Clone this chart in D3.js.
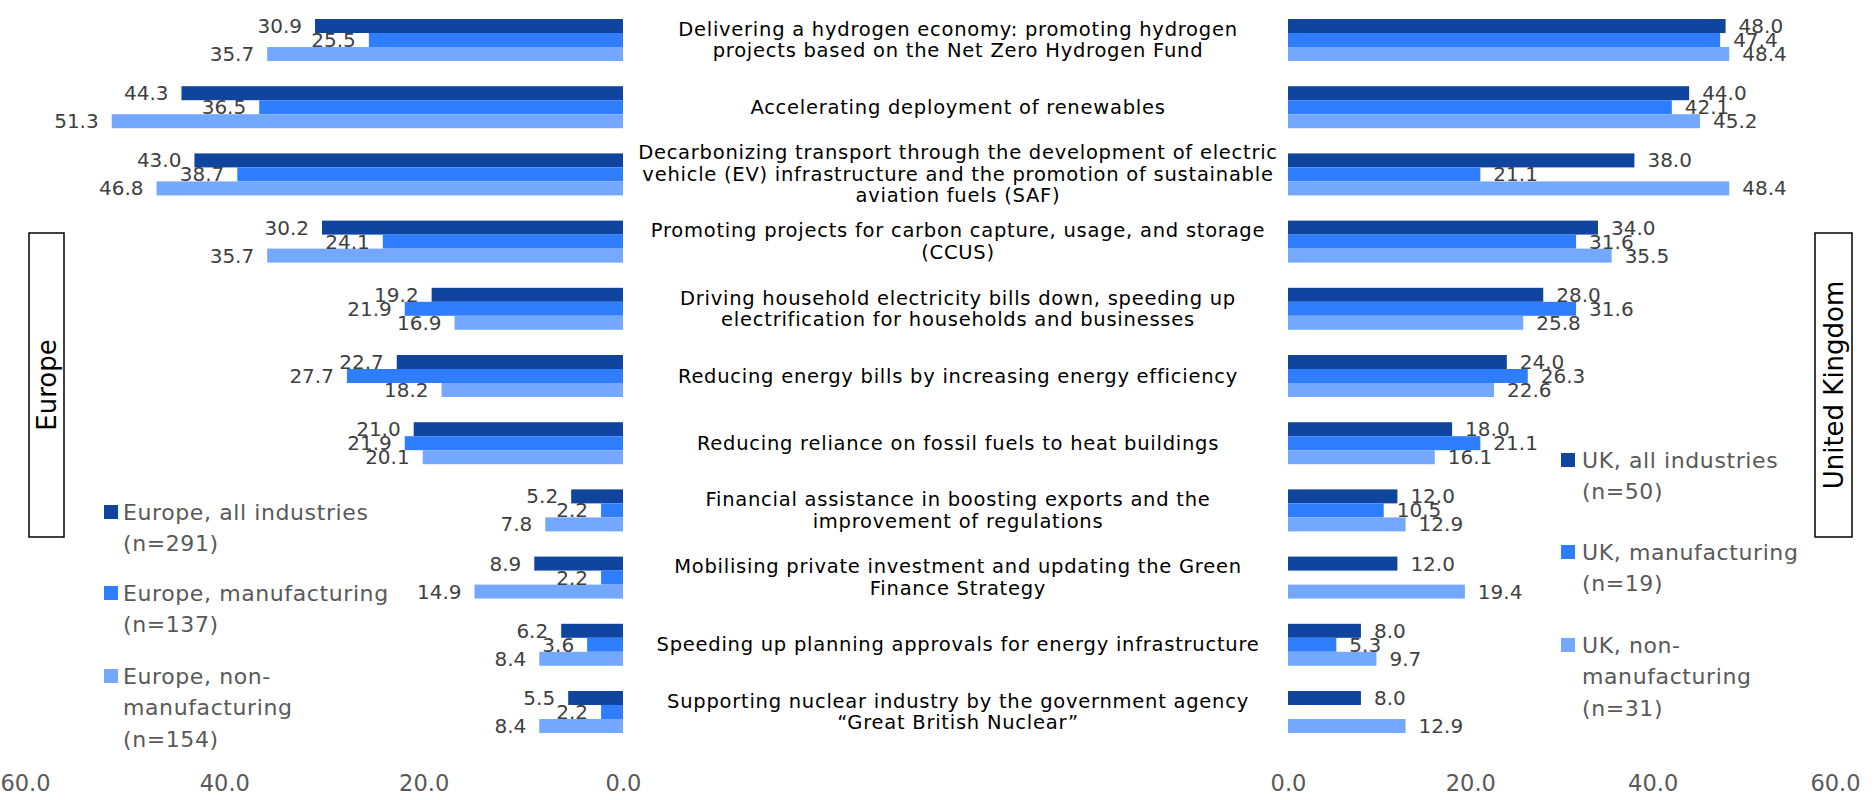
<!DOCTYPE html>
<html>
<head>
<meta charset="utf-8">
<script src="https://cdn.jsdelivr.net/npm/d3@7"></script>
<style>
  html, body { margin: 0; padding: 0; background: #fff; }
  svg { display: block; }
</style>
</head>
<body>
<svg id="chart" width="1874" height="800"></svg>
<script>
// Policy categories (label lines, top to bottom)
const categories = [
  ["Delivering a hydrogen economy: promoting hydrogen", "projects based on the Net Zero Hydrogen Fund"],
  ["Accelerating deployment of renewables"],
  ["Decarbonizing transport through the development of electric", "vehicle (EV) infrastructure and the promotion of sustainable", "aviation fuels (SAF)"],
  ["Promoting projects for carbon capture, usage, and storage", "(CCUS)"],
  ["Driving household electricity bills down, speeding up", "electrification for households and businesses"],
  ["Reducing energy bills by increasing energy efficiency"],
  ["Reducing reliance on fossil fuels to heat buildings"],
  ["Financial assistance in boosting exports and the", "improvement of regulations"],
  ["Mobilising private investment and updating the Green", "Finance Strategy"],
  ["Speeding up planning approvals for energy infrastructure"],
  ["Supporting nuclear industry by the government agency", "\u201cGreat British Nuclear\u201d"]
];

// Europe (%)
const europeAll    = [30.9, 44.3, 43.0, 30.2, 19.2, 22.7, 21.0, 5.2, 8.9, 6.2, 5.5];
const europeMfg    = [25.5, 36.5, 38.7, 24.1, 21.9, 27.7, 21.9, 2.2, 2.2, 3.6, 2.2];
const europeNonMfg = [35.7, 51.3, 46.8, 35.7, 16.9, 18.2, 20.1, 7.8, 14.9, 8.4, 8.4];

// United Kingdom (%); null = no response in that group
const ukAll    = [48.0, 44.0, 38.0, 34.0, 28.0, 24.0, 18.0, 12.0, 12.0, 8.0, 8.0];
const ukMfg    = [47.4, 42.1, 21.1, 31.6, 31.6, 26.3, 21.1, 10.5, null, 5.3, null];
const ukNonMfg = [48.4, 45.2, 48.4, 35.5, 25.8, 22.6, 16.1, 12.9, 19.4, 9.7, 12.9];

const tickValues = [0, 20, 40, 60];

const europeLegend = [
  ["Europe, all industries", "(n=291)"],
  ["Europe, manufacturing", "(n=137)"],
  ["Europe, non-", "manufacturing", "(n=154)"]
];
const ukLegend = [
  ["UK, all industries", "(n=50)"],
  ["UK, manufacturing", "(n=19)"],
  ["UK, non-", "manufacturing", "(n=31)"]
];

const colors = ["#10459F", "#2F7EFF", "#74A8FF"];
const FONT = "'DejaVu Sans', Verdana, sans-serif";

const svg = d3.select("#chart");

const xL = d3.scaleLinear().domain([0, 60]).range([623, 25]);
const xR = d3.scaleLinear().domain([0, 60]).range([1288, 1835]);
const y = d3.scaleBand().domain(d3.range(categories.length))
  .range([0, 752]).paddingInner(0.375).paddingOuter(0.283);
const ys = d3.scaleBand().domain([0, 1, 2]).range([0, y.bandwidth()]);

function panel(series, x, side) {
  const g = svg.append("g");
  series.forEach((vals, s) => {
    const data = vals.map((v, i) => ({ v, i })).filter(d => d.v != null);
    g.selectAll(null).data(data).enter().append("rect")
      .attr("x", d => Math.min(x(0), x(d.v)))
      .attr("width", d => Math.abs(x(d.v) - x(0)))
      .attr("y", d => y(d.i) + ys(s))
      .attr("height", ys.bandwidth())
      .attr("fill", colors[s]);
  });
  series.forEach((vals, s) => {
    const data = vals.map((v, i) => ({ v, i })).filter(d => d.v != null);
    g.selectAll(null).data(data).enter().append("text")
      .attr("x", d => side === "left" ? x(d.v) - 13 : x(d.v) + 13)
      .attr("y", d => y(d.i) + ys(s) + ys.bandwidth() / 2)
      .attr("dominant-baseline", "central")
      .attr("text-anchor", side === "left" ? "end" : "start")
      .attr("font-family", FONT)
      .attr("font-size", 20)
      .attr("fill", "#404040")
      .text(d => d3.format(".1f")(d.v));
  });
  const ax = svg.append("g")
    .attr("transform", "translate(0,783)")
    .call(d3.axisBottom(x).tickValues(tickValues).tickFormat(d3.format(".1f")).tickSize(0));
  ax.select(".domain").remove();
  ax.selectAll("text")
    .attr("y", 0).attr("dy", null)
    .attr("dominant-baseline", "central")
    .attr("font-family", FONT)
    .attr("font-size", 22.5)
    .attr("fill", "#595959");
}

panel([europeAll, europeMfg, europeNonMfg], xL, "left");
panel([ukAll, ukMfg, ukNonMfg], xR, "right");

// Category labels in the centre column
const lineH = 21.5;
const cat = svg.append("g");
categories.forEach((lines, i) => {
  const cy = y(i) + y.bandwidth() / 2;
  const t = cat.append("text")
    .attr("text-anchor", "middle")
    .attr("font-family", FONT)
    .attr("font-size", 19.5)
    .attr("letter-spacing", 0.75)
    .attr("fill", "#000");
  lines.forEach((ln, k) => {
    t.append("tspan")
      .attr("x", 958)
      .attr("y", cy + (k - (lines.length - 1) / 2) * lineH)
      .attr("dominant-baseline", "central")
      .text(ln);
  });
});

// Legends
function legend(items, tx, sx, starts) {
  const g = svg.append("g");
  items.forEach((lines, s) => {
    const y0 = starts[s];
    g.append("rect")
      .attr("x", sx).attr("y", y0 - 7)
      .attr("width", 14).attr("height", 14)
      .attr("fill", colors[s]);
    lines.forEach((ln, k) => {
      g.append("text")
        .attr("x", tx)
        .attr("y", y0 + k * 31.5)
        .attr("dominant-baseline", "central")
        .attr("font-family", FONT)
        .attr("font-size", 22)
        .attr("letter-spacing", 0.6)
        .attr("fill", "#595959")
        .text(ln);
    });
  });
}
legend(europeLegend, 123, 104, [512, 593, 676]);
legend(ukLegend, 1582, 1561, [460, 552, 645]);

// Region title boxes
function regionBox(label, x0, x1) {
  const g = svg.append("g");
  g.append("rect")
    .attr("x", x0).attr("y", 233)
    .attr("width", x1 - x0).attr("height", 304)
    .attr("fill", "#fff").attr("stroke", "#000").attr("stroke-width", 1.5);
  g.append("text")
    .attr("transform", `translate(${(x0 + x1) / 2},385) rotate(-90)`)
    .attr("text-anchor", "middle")
    .attr("dominant-baseline", "central")
    .attr("font-family", FONT)
    .attr("font-size", 26)
    .attr("fill", "#000")
    .text(label);
}
regionBox("Europe", 29, 64);
regionBox("United Kingdom", 1815, 1852);
</script>
</body>
</html>
